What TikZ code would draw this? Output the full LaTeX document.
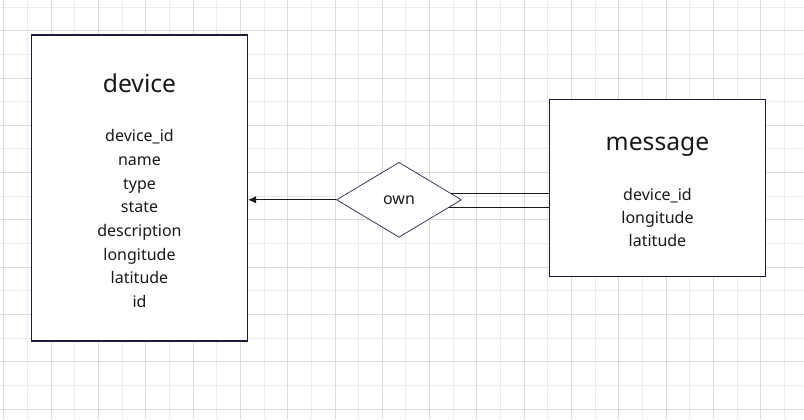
\documentclass[tikz,border=0pt]{standalone}
\usepackage{fontspec}
\setmainfont{Noto Sans}
\usepackage{tikz}
\usetikzlibrary{arrows.meta,shapes.geometric,calc}
\definecolor{gridlight}{HTML}{ECECEC}
\definecolor{griddark}{HTML}{DADADA}
\definecolor{boxline}{HTML}{1B1B3A}
\definecolor{diamline}{HTML}{3A3A6A}
\definecolor{inkblack}{HTML}{1A1A1A}

\begin{document}
\begin{tikzpicture}[x=0.75pt, y=-0.75pt,
    entity/.style={draw=boxline, line width=0.8pt, fill=white, rectangle, inner sep=0pt},
    relation/.style={draw=diamline, line width=0.6pt, fill=white, diamond, inner sep=0pt,
        minimum width=93.75pt, minimum height=56.25pt, font=\fontsize{12}{14}\selectfont, text=inkblack},
    title/.style={anchor=base, inner sep=0pt, font=\fontsize{18.5}{22}\selectfont, text=inkblack},
    attr/.style={anchor=base, inner sep=0pt, font=\fontsize{12}{14}\selectfont, text=inkblack},
    link/.style={line width=0.75pt, inkblack}]
    \useasboundingbox (0,0) rectangle (804,419);
    \fill[white] (0,0) rectangle (804,419);

    % Background grid
    \foreach \i in {0,...,34} {
        \draw[gridlight, line width=0.75pt] ({3.9+23.65*\i},0) -- ++(0,419);
    }
    \foreach \j in {0,...,17} {
        \draw[gridlight, line width=0.75pt] (0,{7.05+23.65*\j}) -- ++(804,0);
    }
    \foreach \i in {0,...,17} {
        \draw[griddark, line width=0.75pt] ({3.9+47.3*\i},0) -- ++(0,419);
    }
    \foreach \j in {0,...,8} {
        \draw[griddark, line width=0.75pt] (0,{30.7+47.3*\j}) -- ++(804,0);
    }

    % Device entity
    \node[entity, minimum width=162pt, minimum height=229.5pt] (device) at (139.5,188) {};
    \node[title] (device-title) at (139.5,92.7) {device};
    \foreach \a [count=\i from 0] in {device\_id,name,type,state,description,longitude,latitude,id} {
        \node[attr] (device-attr-\i) at (139.5,{141.7+23.7*\i}) {\a};
    }

    % Message entity
    \node[entity, minimum width=162.3pt, minimum height=133pt] (message) at (657.5,188) {};
    \node[title] (message-title) at (657.5,150) {message};
    \foreach \a [count=\i from 0] in {device\_id,longitude,latitude} {
        \node[attr] (message-attr-\i) at (657.5,{200+23.4*\i}) {\a};
    }

    % Relationship
    \node[relation] (own) at (399,199.8) {own};

    % Connectors
    \draw[link, -{Latex[length=6pt,width=5.5pt]}] (own.west) -- (own.west -| device.east);
    \coordinate (own-up) at ($(own.east)!0.17!(own.north)$);
    \coordinate (own-dn) at ($(own.east)!0.2!(own.south)$);
    \draw[link] (own-up) -- (own-up -| message.west);
    \draw[link] (own-dn) -- (own-dn -| message.west);

\end{tikzpicture}
\end{document}
